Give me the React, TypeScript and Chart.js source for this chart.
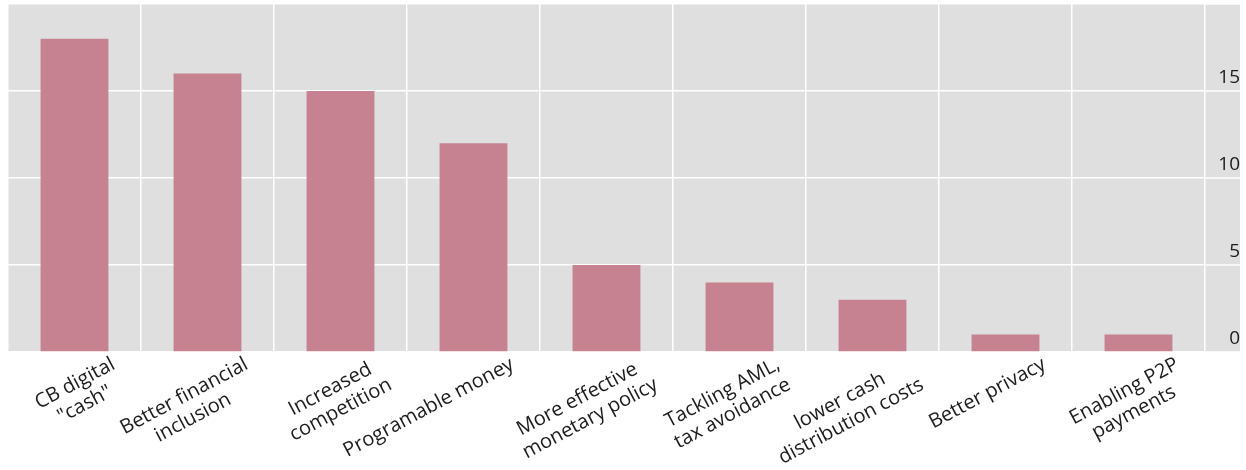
import React, { useEffect, useRef } from "react";
import { Chart, registerables } from "chart.js";

Chart.register(...registerables);

const categories: (string | string[])[] = [
  ["CB digital", "\"cash\""],
  ["Better financial", "inclusion"],
  ["Increased", "competition"],
  "Programable money",
  ["More effective", "monetary policy"],
  ["Tackling AML,", "tax avoidance"],
  ["lower cash", "distribution costs"],
  "Better privacy",
  ["Enabling P2P", "payments"],
];

const values: number[] = [18, 16, 15, 12, 5, 4, 3, 1, 1];

const yTicks: number[] = [0, 5, 10, 15];

const FONT = "'Open Sans', 'Noto Sans', sans-serif";
const X_FONT_SIZE = 20;
const Y_FONT_SIZE = 19;
const BG = "#dfdfdf";
const BAR = "#c78292";
const TEXT = "#1c1c1c";

// centre the lines of a multi-line label inside its block (Chart.js right-aligns rotated labels)
let measureCtx: CanvasRenderingContext2D | null = null;
function centreLines(label: string | string[]): string | string[] {
  if (!Array.isArray(label)) return label;
  if (!measureCtx) measureCtx = document.createElement("canvas").getContext("2d");
  const m = measureCtx!;
  m.font = `${X_FONT_SIZE}px ${FONT}`;
  const widths = label.map((l) => m.measureText(l).width);
  const maxW = Math.max(...widths);
  const spaceW = m.measureText(" ").width || 5;
  return label.map((l, i) => {
    const n = Math.round((maxW - widths[i]) / 2 / spaceW);
    return l + " ".repeat(Math.max(0, n));
  });
}

const bgPlugin = {
  id: "panelBg",
  beforeDraw(chart: any) {
    const { ctx, chartArea, scales } = chart;
    const y = scales.y;
    const right = y.right;
    ctx.save();
    ctx.fillStyle = BG;
    ctx.fillRect(chartArea.left, chartArea.top, right - chartArea.left, chartArea.bottom - chartArea.top);
    ctx.strokeStyle = "#ffffff";
    ctx.lineWidth = 1.5;
    y.ticks.forEach((_t: any, i: number) => {
      const py = y.getPixelForTick(i);
      ctx.beginPath();
      ctx.moveTo(chartArea.right, py);
      ctx.lineTo(right, py);
      ctx.stroke();
    });
    ctx.restore();
  },
};

export default function App() {
  const ref = useRef<HTMLCanvasElement | null>(null);

  useEffect(() => {
    if (!ref.current) return;
    const chart = new Chart(ref.current, {
      type: "bar",
      data: {
        labels: categories,
        datasets: [
          {
            data: values,
            backgroundColor: BAR,
            borderWidth: 0,
            barPercentage: 0.51,
            categoryPercentage: 1,
          },
        ],
      },
      options: {
        animation: false,
        responsive: false,
        devicePixelRatio: 1,
        layout: { padding: { left: 8, top: 4, right: 6, bottom: 0 } },
        plugins: { legend: { display: false }, tooltip: { enabled: false } },
        scales: {
          x: {
            type: "category",
            grid: { color: "#ffffff", lineWidth: 1.5, offset: true, drawTicks: false },
            border: { display: false },
            ticks: {
              autoSkip: false,
              minRotation: 28,
              maxRotation: 28,
              labelOffset: 39,
              padding: 1,
              color: TEXT,
              font: { family: FONT, size: X_FONT_SIZE, lineHeight: 1.15 },
              callback: (_v: any, i: number) => centreLines(categories[i]),
            },
            afterFit: (scale: any) => {
              scale.paddingLeft = 0;
              scale.paddingRight = 0;
              scale.height = 118;
            },
          },
          y: {
            position: "right",
            min: 0,
            max: 20,
            grid: { color: "#ffffff", lineWidth: 1.5, drawTicks: false },
            border: { display: false },
            afterBuildTicks: (scale: any) => {
              scale.ticks = [...yTicks, 20].map((v) => ({ value: v }));
            },
            ticks: {
              crossAlign: "far",
              padding: 11,
              labelOffset: -13,
              color: TEXT,
              font: { family: FONT, size: Y_FONT_SIZE },
              callback: (v: any) => (yTicks.includes(Number(v)) ? String(v) : ""),
            },
            afterFit: (scale: any) => {
              scale.paddingTop = 0;
              scale.paddingBottom = 0;
              scale.width = 35;
            },
          },
        },
      },
      plugins: [bgPlugin],
    });
    return () => chart.destroy();
  }, []);

  return (
    <div style={{ position: "absolute", left: 0, top: 0, width: 1246, height: 470, background: "#ffffff" }}>
      <canvas ref={ref} width={1246} height={470} />
    </div>
  );
}
